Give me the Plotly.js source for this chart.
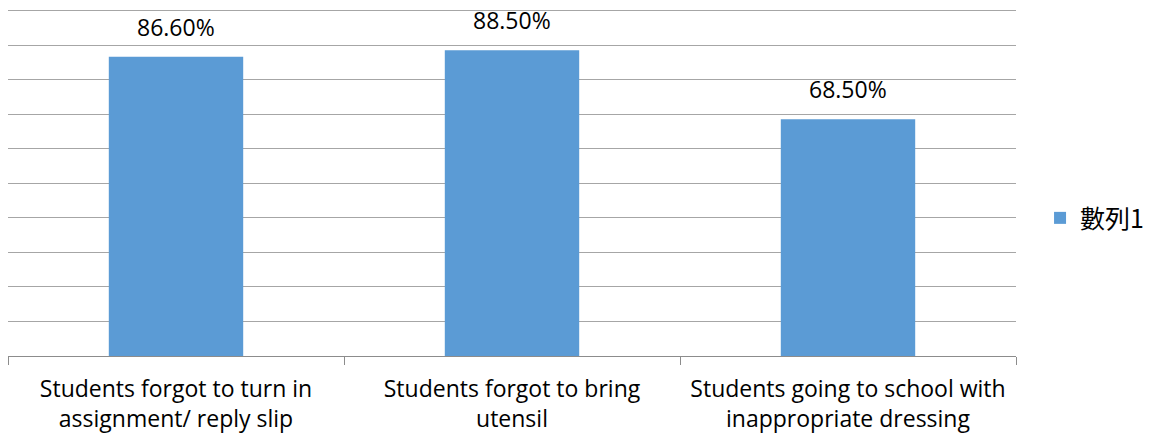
<!DOCTYPE html>
<html>
<head>
<meta charset="utf-8">
<script src="https://cdn.plot.ly/plotly-3.0.1.min.js"></script>
<style>html,body{margin:0;padding:0;background:#fff;}#chart{width:1151px;height:438px;}</style>
</head>
<body>
<div id="chart"></div>
<script>
const categories = [
  "Students forgot to turn in<br>assignment/ reply slip",
  "Students forgot to bring<br>utensil",
  "Students going to school with<br>inappropriate dressing"
];
const values = [86.6, 88.5, 68.5];
const valueLabels = ["86.60%", "88.50%", "68.50%"];
const seriesName = "數列1";

const font = "'Open Sans', 'Noto Sans CJK TC', sans-serif";

const trace = {
  type: "bar",
  x: categories,
  y: values,
  name: seriesName,
  marker: {color: "#5B9BD5"},
  width: 0.4,
  hoverinfo: "skip",
  showlegend: true
};

const annotations = categories.map((c, i) => ({
  x: c, y: values[i], text: valueLabels[i],
  xref: "x", yref: "y", showarrow: false,
  yanchor: "bottom", yshift: 12,
  font: {family: font, size: 23, color: "#000"}
}));

const layout = {
  width: 1151, height: 438,
  margin: {l: 8, r: 135, t: 6.5, b: 82, pad: 0, autoexpand: false},
  paper_bgcolor: "#fff", plot_bgcolor: "#fff",
  showlegend: true,
  legend: {
    xref: "container", yref: "container",
    x: 0.9036, xanchor: "left", y: 0.502, yanchor: "middle",
    font: {family: "'Noto Sans CJK TC', sans-serif", size: 25, color: "#000"},
    itemwidth: 30
  },
  xaxis: {
    type: "category",
    showline: true, linecolor: "#8c8c8c", linewidth: 1,
    ticks: "outside", tickson: "boundaries", ticklen: 8, tickcolor: "#8c8c8c",
    showgrid: false, ticklabelstandoff: 12,
    tickfont: {family: font, size: 23, color: "#000"}
  },
  yaxis: {
    range: [0, 101], dtick: 10, tick0: 0,
    showgrid: true, gridcolor: "#a6a6a6", gridwidth: 1,
    showticklabels: false, zeroline: false, showline: false, ticks: ""
  },
  annotations: annotations,
  bargap: 0.6
};

Plotly.newPlot("chart", [trace], layout, {staticPlot: true, displayModeBar: false});
</script>
</body>
</html>
